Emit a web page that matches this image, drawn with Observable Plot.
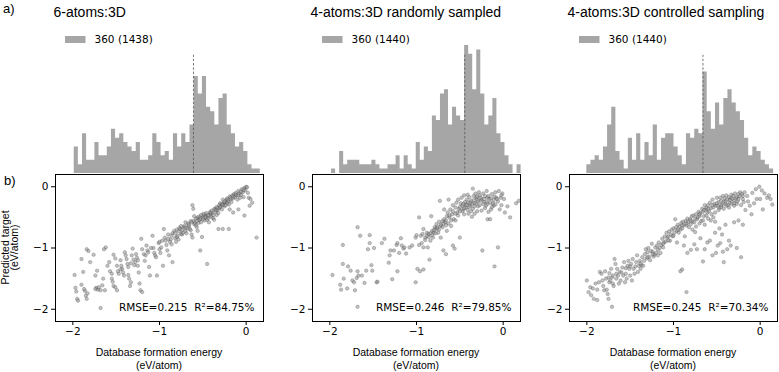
<!DOCTYPE html>
<html><head><meta charset="utf-8">
<script src="https://cdn.jsdelivr.net/npm/d3@7"></script>
<script src="https://cdn.jsdelivr.net/npm/@observablehq/plot@0.6"></script>
<style>
body{margin:0;background:#fff;}
#chart{position:relative;width:779px;height:372px;overflow:hidden;background:#fff;}
.layer{position:absolute;}
</style></head><body><div id="chart"></div>
<script>
// ---------- data ----------
const panelTitles = ["6-atoms:3D", "4-atoms:3D randomly sampled", "4-atoms:3D controlled sampling"];
const legendLabels = ["360 (1438)", "360 (1440)", "360 (1440)"];
const statLabels = ["RMSE=0.215\u00a0\u00a0R²=84.75%", "RMSE=0.246\u00a0\u00a0R²=79.85%", "RMSE=0.245\u00a0\u00a0R²=70.34%"];
const xTicks = [-2, -1, 0];
const yTicks = [-2, -1, 0];
const axisDomain = [-2.2, 0.2];
const histMeans = [-0.608, -0.443, -0.66];

const hist1 = [6,2,9,3,3,7,4,4,6,10,8,9,7,6,5,7,3,3,4,9,7,4,5,3,9,6,9,7,11,22,18,22,15,14,11,17,18,11,9,6,7,5,2,1,1];
const hist1Range = [-1.984, 0.163];
const hist2 = [1,0,5,2,3,3,3,2,2,2,3,2,1,1,2,2,4,1,4,2,1,7,3,6,5,13,12,18,19,11,15,13,12,29,27,19,28,18,11,13,17,9,7,4,2,0,2];
const hist2Range = [-1.98, 0.207];
const hist3 = [2,3,4,3,6,11,15,5,3,1,8,3,9,3,7,4,11,3,8,9,9,6,4,2,9,8,10,9,23,14,10,16,11,17,19,16,14,12,8,4,6,5,3,2,1];
const hist3Range = [-2.0, 0.155];

const pts1 = [
[-1.98,-1.44],[-1.97,-1.65],[-1.96,-1.71],[-1.95,-1.83],[-1.94,-1.86],[-1.9,-1.6],[-1.88,-1.39],[-1.9,-1.18],[-1.84,-1.02],[-1.82,-1.05],[-1.86,-1.7],[-1.85,-1.78],[-1.83,-1.74],[-1.87,-1.67],[-1.84,-1.83],[-1.8,-1.23],[-1.76,-1.11],[-1.74,-1.45],[-1.72,-1.37],[-1.73,-1.65],[-1.71,-1.68],[-1.7,-1.64],[-1.74,-1.67],[-1.68,-1.98],[-1.68,-1.69],[-1.66,-1.61],[-1.65,-1.5],[-1.63,-1.69],[-1.62,-0.99],[-1.64,-1.02],[-1.6,-1.29],[-1.57,-1.38],
[-1.55,-1.5],[-1.54,-1.55],[-1.53,-1.62],[-1.51,-1.64],[-1.49,-1.69],[-1.58,-1.23],[-1.53,-1.11],[-1.51,-1.17],[-1.49,-1.29],[-1.48,-1.38],[-1.47,-1.42],[-1.45,-1.2],[-1.44,-1.29],[-1.43,-1.34],[-1.42,-1.4],[-1.41,-1.45],[-1.4,-1.07],[-1.39,-1.12],[-1.38,-1.18],[-1.37,-1.26],[-1.36,-1.31],[-1.35,-1.5],[-1.34,-1.62],[-1.33,-1.56],[-1.36,-1.44],[-1.32,-1.12],[-1.31,-1.01],[-1.3,-1.19],[-1.29,-1.28],[-1.28,-1.23],[-1.27,-1.1],[-1.26,-1.16],[-1.25,-1.29],[-1.24,-1.4],[-1.23,-1.58],[-1.22,-1.69],[-1.2,-1.72],[-1.21,-0.85],[-1.2,-1.02],[-1.18,-1.1],[-1.17,-1.21],[-1.15,-0.96],[-1.14,-1.04],[-1.13,-1.07],[-1.12,-1.31],[-1.11,-1.45],[-1.08,-0.8],[-1.07,-1.0],[-1.06,-1.08],[-1.05,-1.12],[-1.04,-1.15],[-1.03,-1.45],[-1.01,-0.92],[-1.0,-1.02],[-0.99,-1.08],[-0.98,-0.99],[-0.96,-1.29],
[-0.95,-0.69],[-0.94,-0.83],[-0.93,-0.88],[-0.92,-0.95],[-0.91,-1.04],[-0.89,-1.12],[-0.9,-0.78],[-0.88,-0.9],[-0.87,-0.86],[-0.86,-0.94],[-0.85,-1.23],[-0.83,-0.72],[-0.82,-0.84],[-0.81,-0.9],[-0.8,-0.82],[-0.79,-0.8],[-0.78,-0.86],[-0.77,-0.67],[-0.76,-0.69],[-0.75,-0.77],[-0.74,-0.78],[-0.73,-0.75],[-0.72,-0.66],[-0.71,-0.64],[-0.7,-0.72],[-0.69,-0.76],[-0.68,-0.68],[-0.67,-0.6],[-0.66,-0.64],[-0.65,-0.69],[-0.64,-0.71],[-0.63,-0.78],[-0.62,-0.83],[-0.61,-0.56],[-0.6,-0.61],[-0.59,-0.59],[-0.58,-0.63],[-0.57,-0.66],[-0.56,-0.72],[-0.62,-0.3],[-0.61,-0.36],
[-0.56,-0.51],[-0.55,-0.59],[-0.54,-0.54],[-0.53,-0.5],[-0.52,-0.58],[-0.51,-0.82],[-0.53,-1.04],[-0.5,-0.47],[-0.49,-0.51],[-0.48,-0.55],[-0.47,-0.46],[-0.46,-0.49],[-0.45,-0.54],[-0.44,-0.51],[-0.43,-0.58],[-0.42,-0.42],[-0.41,-0.45],[-0.4,-0.5],[-0.39,-0.43],[-0.38,-0.51],[-0.37,-0.54],[-0.36,-0.36],[-0.35,-0.41],[-0.34,-0.46],[-0.33,-0.38],[-0.32,-0.43],[-0.31,-0.35],[-0.3,-0.27],[-0.29,-0.31],[-0.28,-0.37],[-0.45,-1.26],[-0.32,-0.69],[-0.27,-0.69],[-0.2,-0.69],[-0.19,-0.37],[-0.15,-0.42],[-0.09,-0.37],
[-0.27,-0.21],[-0.26,-0.27],[-0.25,-0.32],[-0.24,-0.26],[-0.23,-0.22],[-0.22,-0.19],[-0.21,-0.24],[-0.2,-0.29],[-0.19,-0.16],[-0.18,-0.21],[-0.17,-0.25],[-0.16,-0.14],[-0.15,-0.19],[-0.14,-0.12],[-0.13,-0.17],[-0.12,-0.1],[-0.11,-0.14],[-0.1,-0.21],[-0.09,-0.07],[-0.08,-0.11],[-0.07,-0.18],[-0.06,-0.13],[-0.05,-0.04],[-0.04,-0.09],[-0.03,-0.17],[-0.02,-0.02],[-0.01,-0.06],[0.0,0.0],[0.01,-0.01],[0.02,-0.1],[0.03,-0.18],[0.04,-0.31],[0.05,-0.2],[0.07,-0.26],[0.12,-0.83],[-0.02,-0.47],
[-0.58,-0.52],[-0.55,-0.49],[-0.52,-0.46],[-0.49,-0.44],[-0.46,-0.43],[-0.43,-0.47],[-0.4,-0.39],[-0.37,-0.37],[-0.34,-0.33],[-0.31,-0.3],[-0.28,-0.28],[-0.25,-0.24],[-0.22,-0.27],[-0.6,-0.48],[-0.64,-0.56],[-0.7,-0.58],[-0.75,-0.64],[-0.8,-0.7],[-0.85,-0.76],
[-0.9,-0.85],[-0.86,-0.8],[-0.82,-0.76],[-0.78,-0.73],[-0.74,-0.71],[-0.7,-0.67],[-0.66,-0.62],[-0.63,-0.58],[-0.57,-0.56],[-0.53,-0.53],[-0.5,-0.53],[-0.47,-0.5],[-0.44,-0.47],[-0.41,-0.42],[-0.38,-0.46],[-0.35,-0.38],[-0.33,-0.35],[-0.3,-0.33],[-0.27,-0.3],[-0.24,-0.3],[-0.21,-0.21],[-0.18,-0.18],[-0.15,-0.16],[-0.12,-0.13],[-0.09,-0.14],[-0.06,-0.08],[-0.03,-0.05],[-1.1,-1.0],[-1.16,-1.12],[-1.25,-1.2],[-1.33,-1.25],[-1.45,-1.35],[-1.55,-1.42],[-1.0,-0.9],[-0.97,-0.88]
];

const pts2 = [
[-1.97,-1.44],[-1.88,-1.6],[-1.87,-1.68],[-1.85,-0.95],[-1.85,-1.26],[-1.84,-1.5],[-1.8,-1.66],[-1.79,-1.3],[-1.76,-1.37],[-1.74,-1.53],[-1.72,-1.56],[-1.71,-1.69],[-1.69,-1.49],[-1.68,-1.96],[-1.68,-0.66],[-1.68,-1.38],[-1.67,-1.45],[-1.65,-0.8],[-1.63,-1.45],[-1.6,-1.57],[-1.58,-1.37],[-1.56,-1.02],[-1.54,-0.79],[-1.54,-0.92],[-1.52,-1.28],[-1.51,-1.37],[-1.49,-1.0],[-1.46,-1.56],[-1.45,-1.55],[-1.4,-0.92],[-1.37,-0.85],[-1.32,-1.24],[-1.31,-1.12],[-1.3,-1.04],[-1.28,-1.51],[-1.26,-1.04],[-1.23,-0.95],[-1.22,-0.92],[-1.22,-1.38],[-1.2,-1.08],[-1.18,-0.84],[-1.17,-0.96],[-1.15,-1.01],[-1.14,-0.99],[-1.12,-1.09],[-1.08,-0.99],[-1.05,-0.96],[-1.01,-0.83],[-1.0,-0.79],[-1.01,-1.56],[-0.99,-1.34],[-0.97,-0.5],[-0.96,-1.38],[-0.95,-0.8],[-0.93,-0.77],[-0.92,-1.35],[-0.92,-0.69],[-0.92,-0.99],[-0.9,-0.83],[-0.88,-0.75],[-0.87,-0.99],[-0.86,-0.77],[-0.85,-1.19],[-0.84,-0.88],[-0.83,-0.48],[-0.82,-0.72],[-0.81,-0.83],[-0.8,-0.75],[-0.79,-0.66],[-0.78,-0.69],[-0.77,-0.61],[-0.76,-0.66],[-0.75,-0.75],[-0.74,-0.57],[-0.73,-0.23],[-0.72,-0.64],[-0.72,-0.83],[-0.7,-0.56],[-0.69,-1.04],[-0.68,-0.53],[-0.68,-0.37],[-0.67,-0.58],[-0.66,-1.1],[-0.65,-0.48],[-0.65,-0.72],[-0.64,-0.42],[-0.63,-0.21],[-0.62,-0.5],[-0.61,-0.37],[-0.6,-0.64],[-0.59,-0.45],[-0.58,-0.96],[-0.58,-0.3],[-0.57,-0.53],[-0.56,-1.01],[-0.55,-0.34],[-0.54,-0.26],[-0.53,-0.42],[-0.52,-0.21],[-0.51,-0.36],[-0.5,-0.83],[-0.49,-0.27],[-0.48,-0.18],[-0.47,-0.31],[-0.46,-0.37],[-0.45,-0.14],[-0.44,-0.25],[-0.43,-0.34],[-0.42,-0.21],[-0.41,-0.13],[-0.4,-0.26],[-0.39,-0.17],[-0.38,-0.31],[-0.37,-0.23],[-0.36,-0.28],[-0.35,-0.03],[-0.34,-0.15],[-0.33,-0.27],[-0.32,-0.11],[-0.31,-0.18],[-0.3,-0.21],[-0.29,-0.32],[-0.28,-0.09],[-0.27,-0.14],[-0.26,-0.23],[-0.25,-0.39],[-0.24,-1.04],[-0.23,-0.11],[-0.22,-0.25],[-0.21,-0.15],[-0.2,-0.31],[-0.19,-0.07],[-0.18,-0.18],[-0.18,-0.53],[-0.17,-0.41],[-0.16,-0.2],[-0.15,-0.53],[-0.14,-0.37],[-0.13,-0.12],[-0.12,-0.27],[-0.11,-0.31],[-0.1,-1.3],[-0.09,-0.09],[-0.08,-0.18],[-0.07,-0.2],[-0.06,-0.99],[-0.05,-0.07],[-0.04,-0.37],[-0.03,-0.18],[-0.02,-0.3],[-0.01,-0.11],[0.01,-0.2],[0.02,-0.42],[0.05,-0.32],[0.08,-0.5],[0.18,-0.23],[0.15,-0.27],
[-0.47,-0.4],[-0.45,-0.35],[-0.43,-0.29],[-0.41,-0.38],[-0.39,-0.33],[-0.37,-0.4],[-0.35,-0.36],[-0.33,-0.32],[-0.31,-0.27],[-0.29,-0.24],[-0.27,-0.3],[-0.25,-0.2],[-0.23,-0.28],[-0.21,-0.35],[-0.19,-0.25],[-0.17,-0.15],[-0.15,-0.26],[-0.13,-0.33],[-0.11,-0.22],[-0.09,-0.29],[-0.45,-0.45],[-0.4,-0.44],[-0.36,-0.49],[-0.33,-0.44],[-0.3,-0.4],[-0.5,-0.4],[-0.52,-0.47],[-0.55,-0.55],[-0.6,-0.55],[-0.63,-0.6],[-0.66,-0.63],[-0.7,-0.66],[-0.74,-0.7],[-0.78,-0.76],[-0.82,-0.79],[-0.86,-0.82],[-0.9,-0.87],[-0.94,-0.92],[-0.97,-0.95],
[-0.88,-0.8],[-0.84,-0.76],[-0.8,-0.71],[-0.76,-0.68],[-0.72,-0.62],[-0.69,-0.6],[-0.66,-0.55],[-0.62,-0.47],[-0.58,-0.4],[-0.55,-0.44],[-0.5,-0.33],[-0.46,-0.28],[-0.42,-0.3],[-0.38,-0.26],[-0.34,-0.22],[-0.3,-0.16],[-0.26,-0.18],[-0.22,-0.2],[-0.18,-0.28],[-0.14,-0.19],[-0.1,-0.16],[-0.06,-0.24],[-0.02,-0.14]
];

const pts3 = [
[-2.0,-1.53],[-1.98,-1.72],[-1.96,-1.64],[-1.95,-1.77],[-1.93,-1.66],[-1.92,-1.83],[-1.9,-1.58],[-1.88,-1.68],[-1.88,-1.85],[-1.86,-1.56],[-1.85,-1.39],[-1.83,-1.42],[-1.82,-1.53],[-1.81,-1.62],[-1.8,-1.69],[-1.79,-1.38],[-1.78,-1.5],[-1.77,-1.68],[-1.76,-1.75],[-1.75,-1.48],[-1.74,-1.56],[-1.75,-1.83],[-1.74,-1.41],[-1.73,-1.53],[-1.72,-1.34],[-1.71,-1.48],[-1.71,-1.96],[-1.7,-1.58],[-1.69,-1.62],[-1.68,-1.18],[-1.67,-1.26],[-1.66,-1.5],[-1.65,-1.34],[-1.64,-1.45],[-1.63,-1.58],[-1.62,-1.39],[-1.61,-1.53],[-1.59,-1.32],[-1.58,-1.45],[-1.57,-1.23],[-1.56,-1.56],[-1.55,-1.42],[-1.54,-1.5],[-1.53,-1.29],[-1.52,-1.21],[-1.51,-1.34],[-1.5,-1.45],[-1.49,-1.26],[-1.48,-1.53],[-1.47,-1.18],[-1.46,-1.34],[-1.45,-1.42],[-1.43,-1.23],[-1.42,-1.12],[-1.41,-1.39],[-1.4,-1.29],[-1.39,-1.21],[-1.38,-1.34],[-1.37,-1.28],[-1.36,-1.15],[-1.35,-1.29],[-1.34,-1.21],[-1.33,-1.1],[-1.32,-1.02],[-1.31,-1.17],[-1.3,-1.07],[-1.29,-1.0],[-1.28,-1.14],[-1.27,-1.2],[-1.26,-1.05],[-1.25,-0.93],[-1.24,-1.06],[-1.23,-1.14],[-1.22,-1.11],[-1.21,-0.99],[-1.2,-1.08],[-1.19,-0.96],[-1.18,-1.12],[-1.17,-0.91],[-1.16,-1.0],[-1.15,-1.08],[-1.14,-0.95],[-1.13,-0.85],[-1.12,-0.99],[-1.11,-0.91],[-1.1,-0.81],[-1.09,-0.89],[-1.08,-0.75],[-1.07,-0.83],[-1.06,-0.81],[-1.05,-0.73],[-1.04,-0.88],[-1.03,-0.78],[-1.02,-0.7],[-1.01,-0.81],[-1.0,-0.68],[-0.99,-0.75],[-0.98,-0.53],[-0.97,-0.66],[-0.96,-0.72],[-0.95,-0.62],[-0.94,-0.75],[-0.93,-0.65],[-0.92,-0.7],[-0.91,-0.59],[-0.9,-0.68],[-0.89,-0.57],[-0.88,-0.63],[-0.87,-0.81],[-0.86,-0.56],[-0.85,-0.63],[-0.84,-0.52],[-0.83,-0.58],[-0.82,-0.66],[-0.81,-0.53],[-0.8,-0.61],[-0.79,-0.48],[-0.78,-0.57],[-0.77,-0.47],[-0.76,-0.58],[-0.75,-0.74],[-0.74,-0.45],[-0.73,-0.53],[-0.72,-0.5],[-0.71,-0.41],[-0.7,-0.48],[-0.69,-0.43],[-0.68,-0.56],[-0.67,-0.36],[-0.66,-0.41],[-0.65,-0.48],[-0.64,-0.3],[-0.63,-0.37],[-0.62,-0.34],[-0.61,-0.42],[-0.6,-0.3],[-0.59,-0.4],[-0.58,-0.26],[-0.57,-0.35],[-0.56,-0.45],[-0.55,-0.21],[-0.54,-0.34],[-0.53,-0.28],[-0.52,-0.42],[-0.51,-0.31],[-0.5,-0.18],[-0.49,-0.31],[-0.48,-0.25],[-0.47,-0.35],[-0.46,-0.18],[-0.45,-0.23],[-0.44,-0.29],[-0.43,-0.15],[-0.42,-0.24],[-0.41,-0.19],[-0.4,-0.28],[-0.39,-0.14],[-0.38,-0.21],[-0.37,-0.3],[-0.36,-0.17],[-0.35,-0.26],[-0.34,-0.19],[-0.33,-0.13],[-0.32,-0.2],[-0.31,-0.15],[-0.3,-0.23],[-0.29,-0.11],[-0.28,-0.19],[-0.27,-0.17],[-0.26,-0.24],[-0.25,-0.12],[-0.24,-0.16],[-0.23,-0.09],[-0.22,-0.3],[-0.21,-0.12],[-0.2,-0.2],[-0.19,-0.25],[-0.18,-0.09],[-0.17,-0.38],[-0.15,-0.15],[-0.14,-0.24],[-0.12,-0.31],[-0.1,-0.45],[-0.09,-0.1],[-0.07,-0.27],[-0.05,-0.04],[-0.04,-0.2],[-0.01,0.0],[0.0,-0.2],[0.02,-0.06],[0.03,-0.37],[0.05,-0.11],[0.08,-0.18],[0.1,-0.14],[0.14,-0.29],[0.12,-0.2],
[-0.96,-0.91],[-0.88,-0.96],[-0.84,-1.08],[-0.8,-1.03],[-0.76,-0.94],[-0.73,-1.02],[-0.69,-0.84],[-0.66,-1.22],[-0.64,-1.02],[-0.61,-0.91],[-0.58,-0.88],[-0.55,-1.12],[-0.51,-1.08],[-0.49,-0.96],[-0.46,-0.92],[-0.43,-1.06],[-0.42,-1.23],[-0.38,-1.02],[-0.36,-0.88],[-0.34,-0.96],[-0.27,-1.0],[-0.22,-1.15],[-0.9,-1.35],[-0.92,-1.38],[-0.85,-1.72],[-0.52,-0.75],[-0.47,-0.68],[-0.44,-0.78],[-0.4,-0.62],[-0.3,-0.58],[-0.25,-0.55],[-0.2,-0.62],
[-0.48,-0.38],[-0.45,-0.33],[-0.42,-0.36],[-0.39,-0.31],[-0.36,-0.34],[-0.33,-0.28],[-0.3,-0.31],[-0.27,-0.28],[-0.6,-0.52],[-0.57,-0.55],[-0.54,-0.5],[-0.52,-0.57],[-0.66,-0.55],[-0.7,-0.6],[-0.74,-0.65],[-0.78,-0.7],[-0.62,-0.47],[-0.64,-0.62],
[-1.7,-1.45],[-1.66,-1.42],[-1.6,-1.4],[-1.55,-1.33],[-1.5,-1.3],[-1.44,-1.3],[-1.38,-1.25],[-1.3,-1.15],[-1.24,-1.1],[-1.18,-1.03],[-1.12,-0.93],[-1.06,-0.88],[-1.0,-0.8],[-0.95,-0.7],[-0.9,-0.63],[-0.85,-0.6],[-0.8,-0.55],[-0.75,-0.52],[-0.7,-0.45],[-0.65,-0.38],[-0.6,-0.36],[-0.55,-0.3],[-0.5,-0.27],[-0.45,-0.3],[-0.4,-0.24],[-0.35,-0.22],[-0.3,-0.27],[-0.25,-0.2],[-0.2,-0.15]
];

// ---------- layout ----------
const W = 779, H = 372;
const frameLefts = [55, 312, 569];
const FW = 208;
const mL = 30, mR = 2;
const chart = document.getElementById("chart");
const fmt = d => (d < 0 ? "\u2212" + Math.abs(d) : String(d));
const barColor = "#a6a6a6";

const hists = [[hist1, hist1Range], [hist2, hist2Range], [hist3, hist3Range]];
const ptsAll = [pts1, pts2, pts3];

function place(node, left, top) {
  const d = document.createElement("div");
  d.className = "layer";
  d.style.left = left + "px";
  d.style.top = top + "px";
  d.appendChild(node);
  chart.appendChild(d);
}

for (let p = 0; p < 3; p++) {
  const [counts, [lo, hi]] = hists[p];
  const w = (hi - lo) / counts.length;
  // step outline of the histogram: left edge of each bin, plus the closing right edge
  const steps = counts.map((n, i) => ({x: lo + i * w, n}));
  steps.push({x: hi, n: counts[counts.length - 1]});
  const histPlot = Plot.plot({
    width: mL + FW + mR, height: 148,
    marginLeft: mL, marginRight: mR, marginTop: 5, marginBottom: 0,
    style: {background: "transparent", overflow: "visible"},
    x: {domain: axisDomain, axis: null},
    y: {domain: [0, 32.4], axis: null},
    marks: [
      Plot.areaY(steps, {x: "x", y: "n", curve: "step-after", fill: barColor}),
      Plot.ruleX([histMeans[p]], {y1: 0, y2: 26.8, stroke: "#555", strokeWidth: 0.8, strokeDasharray: "2.5,1.8"})
    ]
  });
  place(histPlot, frameLefts[p] - mL, 25);

  const sc = Plot.plot({
    width: mL + FW + mR, height: 185,
    marginLeft: mL, marginRight: mR, marginTop: 14, marginBottom: 24,
    style: {background: "transparent", overflow: "visible", fontFamily: "DejaVu Sans", fontSize: "10.5px", color: "#000"},
    x: {domain: axisDomain, ticks: xTicks, tickSize: 4, tickPadding: 2, tickFormat: fmt, label: null},
    y: {domain: axisDomain, ticks: yTicks, tickSize: 4, tickPadding: 3, tickFormat: fmt, label: null},
    marks: [
      Plot.dot(ptsAll[p], {x: d => d[0], y: d => d[1], r: 1.7, fill: "#9a9a9a", stroke: "#333", strokeWidth: 0.5, opacity: 0.6}),
      Plot.text([statLabels[p]], {frameAnchor: "bottom-right", dx: -9, dy: -14, textAnchor: "end", lineAnchor: "middle", fontSize: 10.5, fill: "#000"}),
      Plot.frame({stroke: "#000", strokeWidth: 1})
    ]
  });
  place(sc, frameLefts[p] - mL, 160);
}

// ---------- annotation overlay ----------
const ov = d3.select(chart).append("svg")
  .attr("class", "layer").attr("width", W).attr("height", H)
  .style("left", "0px").style("top", "0px").style("pointer-events", "none");
const sans = "Liberation Sans, Arial, sans-serif";
ov.append("text").attr("x", 3).attr("y", 12.5).attr("font-family", sans).attr("font-size", 13).text("a)");
ov.append("text").attr("x", 4).attr("y", 185).attr("font-family", sans).attr("font-size", 13).text("b)");
for (let p = 0; p < 3; p++) {
  const fl = frameLefts[p];
  ov.append("text").attr("x", fl - 1.5).attr("y", 16.8).attr("font-family", sans).attr("font-size", 14).text(panelTitles[p]);
  ov.append("rect").attr("x", fl + 10).attr("y", 36).attr("width", 20.5).attr("height", 7).attr("fill", barColor);
  ov.append("text").attr("x", fl + 39.5).attr("y", 43.3).attr("font-family", "DejaVu Sans").attr("font-size", 10.5).text(legendLabels[p]);
  const cx = fl + FW / 2;
  ov.append("text").attr("x", cx).attr("y", 356).attr("text-anchor", "middle").attr("font-family", sans).attr("font-size", 10.5).text("Database formation energy");
  ov.append("text").attr("x", cx).attr("y", 368.5).attr("text-anchor", "middle").attr("font-family", sans).attr("font-size", 10.5).text("(eV/atom)");
}
ov.append("text").attr("transform", "translate(8.5,247.5) rotate(-90)").attr("text-anchor", "middle").attr("font-family", sans).attr("font-size", 10.5).text("Predicted target");
ov.append("text").attr("transform", "translate(18,247.5) rotate(-90)").attr("text-anchor", "middle").attr("font-family", sans).attr("font-size", 10.5).text("(eV/atom)");
</script>
</body></html>
